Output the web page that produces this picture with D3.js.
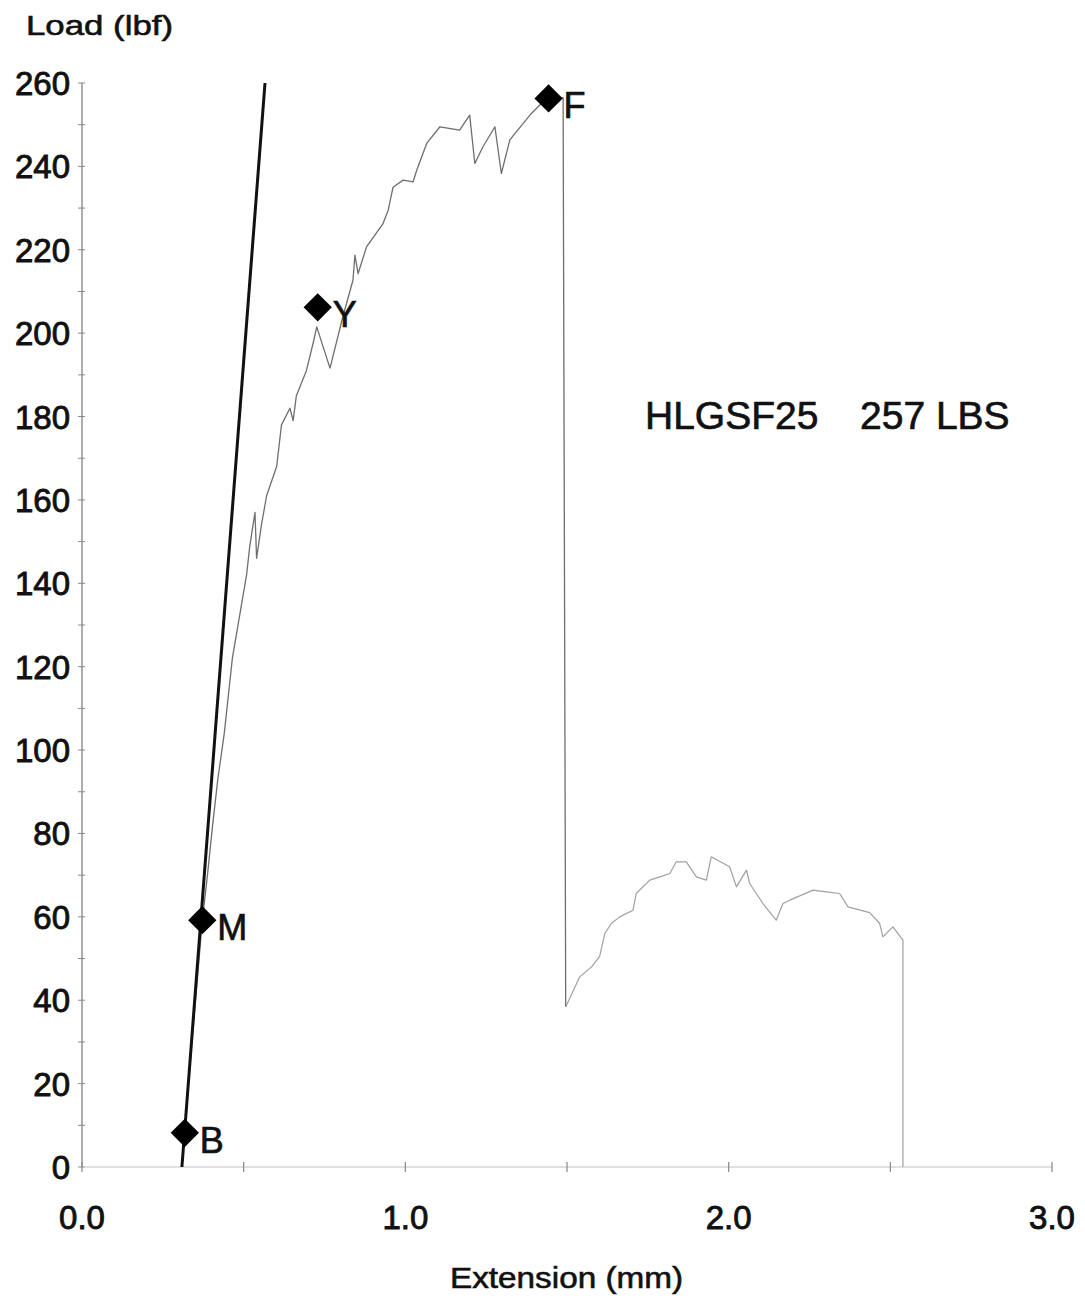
<!DOCTYPE html>
<html>
<head>
<meta charset="utf-8">
<script src="https://cdn.jsdelivr.net/npm/d3@7"></script>
<style>
html,body{margin:0;padding:0;background:#fff;}
svg{display:block;}
text{font-family:"Liberation Sans",Arial,sans-serif;fill:#111;}
</style>
</head>
<body>
<svg id="chart" width="1085" height="1301"></svg>
<script>
// ---- data (extension mm, load lbf) ----
const curveExt  = [0.318,0.340,0.372,0.388,0.404,0.420,0.440,0.465,0.509,0.519,0.535,0.540,0.555,0.571,0.602,0.617,0.643,0.653,0.663,0.694,0.716,0.726,0.767,0.807,0.838,0.844,0.854,0.880,0.931,0.947,0.962,0.993,1.024,1.035,1.066,1.107,1.168,1.199,1.215,1.240,1.277,1.297,1.323,1.338,1.390,1.441,1.488,1.496];
const curveLoad = [8.2,30,59,70,82,93,104,122,142,149,157,146,154,161,168,178,182,179,185,191,198,201.5,191.6,204,212.7,218.7,214.3,220.7,226.3,229.5,235,236.7,236.3,239,245.5,249.5,248.7,252.3,240.7,244.7,249.5,238.3,246.3,247.8,252.7,256.7,256.5,38.4];
const postExt  = [1.496,1.539,1.576,1.601,1.617,1.637,1.663,1.704,1.714,1.756,1.787,1.818,1.838,1.869,1.900,1.931,1.946,2.003,2.024,2.055,2.065,2.106,2.147,2.168,2.189,2.261,2.302,2.343,2.369,2.436,2.467,2.477,2.508,2.539,2.539];
const postLoad = [38.4,45.6,48,50.5,56,58.4,60,61.6,65.6,68.8,69.6,70.4,73.2,73.2,69.6,68.8,74.4,72,67.2,71.2,68,63.2,59.2,63.2,64,66.4,66,65.6,62.4,61,58.4,55.2,57.6,54.4,0];
const modulusExt  = [0.309,0.566];
const modulusLoad = [0,260];
const markerNames = ["B","M","Y","F"];
const markerExt   = [0.318,0.372,0.729,1.443];
const markerLoad  = [8.2,59.2,206.2,256.3];
const yTicks = [0,20,40,60,80,100,120,140,160,180,200,220,240,260];
const yMinor = d3.range(0,261,10);
const xTicks = [0.0,1.0,2.0,3.0];
const xMinor = [0,0.5,1,1.5,2,2.5,3];
const sampleName = "HLGSF25";
const sampleLoad = "257 LBS";

// ---- layout ----
const svg = d3.select("#chart");
const x = d3.scaleLinear().domain([0,3]).range([82,1052]);
const y = d3.scaleLinear().domain([0,260]).range([1167,83]);

// y axis
svg.append("line").attr("x1",x(0)).attr("x2",x(0)).attr("y1",y(0)).attr("y2",y(260))
  .attr("stroke","#777").attr("stroke-width",1.2);
svg.selectAll(".ymin").data(yMinor).join("line")
  .attr("x1",x(0)-4).attr("x2",x(0)+3).attr("y1",d=>y(d)).attr("y2",d=>y(d))
  .attr("stroke","#888").attr("stroke-width",1);
svg.selectAll(".ylab").data(yTicks).join("text")
  .attr("x",70).attr("y",d=>y(d)+12).attr("text-anchor","end")
  .attr("font-size",33).attr("stroke","#111").attr("stroke-width",0.9)
  .text(d=>d);

// x axis
svg.append("line").attr("x1",x(0)).attr("x2",x(3)).attr("y1",y(0)).attr("y2",y(0))
  .attr("stroke","#c4c4c4").attr("stroke-width",1.2);
svg.selectAll(".xmin").data(xMinor).join("line")
  .attr("x1",d=>x(d)).attr("x2",d=>x(d)).attr("y1",y(0)-5).attr("y2",y(0)+5)
  .attr("stroke","#888").attr("stroke-width",1.2);
svg.selectAll(".xlab").data(xTicks).join("text")
  .attr("x",d=>x(d)).attr("y",1229).attr("text-anchor","middle")
  .attr("font-size",33).attr("stroke","#111").attr("stroke-width",0.9)
  .text(d=>d.toFixed(1));

// axis titles
svg.append("text").attr("x",26).attr("y",35).attr("font-size",28)
  .attr("textLength",147).attr("lengthAdjust","spacingAndGlyphs")
  .attr("stroke","#111").attr("stroke-width",0.6).text("Load (lbf)");
svg.append("text").attr("x",450).attr("y",1288).attr("font-size",29)
  .attr("textLength",233).attr("lengthAdjust","spacingAndGlyphs")
  .attr("stroke","#111").attr("stroke-width",0.6).text("Extension (mm)");

// curves
const line = d3.line().x(d=>x(d[0])).y(d=>y(d[1]));
svg.append("path").datum(curveExt.map((e,i)=>[e,curveLoad[i]]))
  .attr("d",line).attr("fill","none").attr("stroke","#6e6e6e").attr("stroke-width",1.3)
  .attr("stroke-linejoin","round");
svg.append("path").datum(postExt.map((e,i)=>[e,postLoad[i]]))
  .attr("d",line).attr("fill","none").attr("stroke","#a0a0a0").attr("stroke-width",1.2)
  .attr("stroke-linejoin","round");

// modulus line
svg.append("path").datum(modulusExt.map((e,i)=>[e,modulusLoad[i]]))
  .attr("d",line).attr("fill","none").attr("stroke","#111").attr("stroke-width",3);

// markers
const mk = markerNames.map((n,i)=>({n,e:markerExt[i],l:markerLoad[i]}));
svg.selectAll(".mk").data(mk).join("path")
  .attr("d",d3.symbol().type(d3.symbolSquare).size(400))
  .attr("transform",d=>`translate(${x(d.e)},${y(d.l)}) rotate(45)`)
  .attr("fill","#000");
svg.selectAll(".mkl").data(mk).join("text")
  .attr("x",d=>x(d.e)+15).attr("y",d=>y(d.l)+20)
  .attr("font-size",36).attr("stroke","#111").attr("stroke-width",0.7)
  .text(d=>d.n);

// annotation
svg.append("text").attr("x",645).attr("y",429).attr("font-size",39)
  .attr("stroke","#111").attr("stroke-width",0.7).text(sampleName);
svg.append("text").attr("x",860).attr("y",429).attr("font-size",39)
  .attr("stroke","#111").attr("stroke-width",0.7).text(sampleLoad);
</script>
</body>
</html>
